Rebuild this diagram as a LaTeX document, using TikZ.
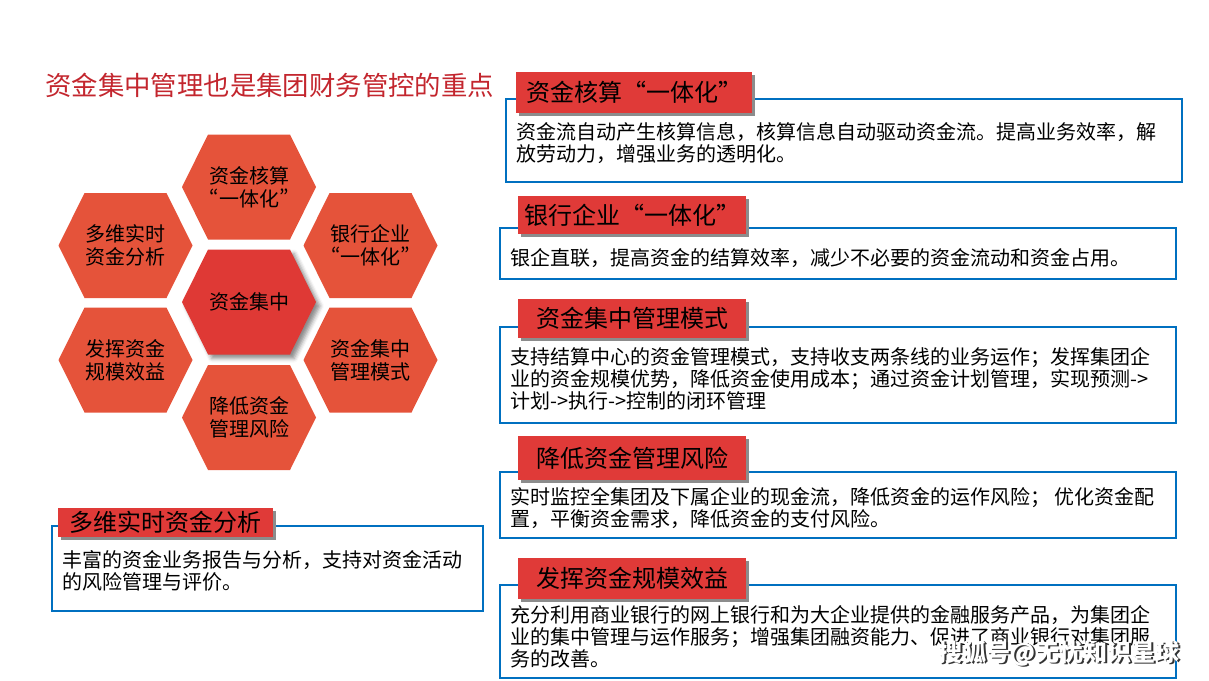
\documentclass[tikz,border=0pt]{standalone}
\usepackage{fontspec}
\setmainfont{Noto Sans CJK SC}
\newfontfamily\tagfont[RawFeature=+fwid]{Noto Sans CJK SC}
\newfontfamily\hexfont[RawFeature=+pwid]{Noto Sans CJK SC}
\usepackage{tikz}
\usetikzlibrary{shadows,shadows.blur,backgrounds}
\definecolor{hexorange}{HTML}{E5533A}
\definecolor{hexred}{HTML}{DF3935}
\definecolor{tagred}{HTML}{E03A38}
\definecolor{titlered}{HTML}{C3262E}
\definecolor{panelblue}{HTML}{0070C0}
\tikzset{
  hextxt/.style={align=center, inner sep=0pt, font=\hexfont\fontsize{20}{23}\selectfont},
  panel/.style={draw=panelblue, line width=2pt, fill=white, minimum width=676pt, inner sep=0pt},
  tagbox/.style={fill=tagred, inner sep=0pt, minimum width=228pt, font=\tagfont\fontsize{24}{26}\selectfont,
    drop shadow={shadow xshift=3pt, shadow yshift=-3pt, fill=black!45, opacity=1}},
  bodytxt/.style={anchor=west, align=left, inner sep=0pt, font=\fontsize{20}{22}\selectfont},
  mark txt/.style={anchor=east, inner sep=0pt, font=\bfseries\fontsize{24}{24}\selectfont}
}

\begin{document}
\begin{tikzpicture}[x=1pt, y=-1pt]
  \useasboundingbox (0,0) rectangle (1209,680);

  % title
  \node[anchor=west, inner sep=0pt, text=titlered, font=\fontsize{26.4}{28}\selectfont] (ttl) at (45,85.5) {资金集中管理也是集团财务管控的重点};

  % hexagon cluster
  \node[hextxt] (hxTop) at (249,187) {资金核算\\“一体化”};
  \node[hextxt] (hxUL) at (125.5,245.5) {多维实时\\资金分析};
  \node[hextxt] (hxUR) at (370.5,245.5) {银行企业\\“一体化”};
  \node[hextxt] (hxMid) at (249,302) {资金集中};
  \node[hextxt] (hxLL) at (125.5,360) {发挥资金\\规模效益};
  \node[hextxt] (hxLR) at (370.5,360) {资金集中\\管理模式};
  \node[hextxt] (hxBot) at (249,417.5) {降低资金\\管理风险};

  \begin{pgfonlayer}{background}
    \foreach \nm in {hxTop,hxUL,hxUR,hxLL,hxLR,hxBot}
      \fill[hexorange, shift={(\nm.center)}] (-67,0) -- (-41,-52.5) -- (41,-52.5) -- (67,0) -- (41,52.5) -- (-41,52.5) -- cycle;
    \fill[hexred, shift={(hxMid.center)},
          blur shadow={shadow xshift=4pt, shadow yshift=-4pt, shadow blur radius=4pt, shadow opacity=45}]
      (-67,0) -- (-41,-52.5) -- (41,-52.5) -- (67,0) -- (41,52.5) -- (-41,52.5) -- cycle;
  \end{pgfonlayer}

  % panels
  \node[panel, minimum height=83pt] (pnHesuan) at (844,140.5) {};
  \node[panel, minimum height=51pt] (pnYinqi) at (838,253.5) {};
  \node[panel, minimum height=96pt] (pnMoshi) at (838,375) {};
  \node[panel, minimum height=66pt] (pnFengxian) at (838,505) {};
  \node[panel, minimum height=93pt] (pnGuimo) at (838,631.5) {};
  \node[panel, minimum width=431pt, minimum height=85pt] (pnFenxi) at (267.5,568.5) {};

  % red tags
  \node[tagbox, minimum width=236pt, minimum height=41pt] (tgHesuan) at (634,92.5) {资金核算“一体化”};
  \node[tagbox, minimum height=38pt] (tgYinqi) at (632,215) {银行企业“一体化”};
  \node[tagbox, minimum height=39pt] (tgMoshi) at (632,318.5) {资金集中管理模式};
  \node[tagbox, minimum height=44pt] (tgFengxian) at (632,458) {降低资金管理风险};
  \node[tagbox, minimum height=41pt] (tgGuimo) at (632,578.5) {发挥资金规模效益};
  \node[tagbox, minimum width=215pt, minimum height=29pt] (tgFenxi) at (165.5,522.5) {多维实时资金分析};

  % panel texts
  \node[bodytxt] (txHesuan) at (516,143.5) {资金流自动产生核算信息，核算信息自动驱动资金流。提高业务效率，解\\放劳动力，增强业务的透明化。};
  \node[bodytxt] (txYinqi) at (510,258) {银企直联，提高资金的结算效率，减少不必要的资金流动和资金占用。};
  \node[bodytxt] (txMoshi) at (510,379) {支持结算中心的资金管理模式，支持收支两条线的业务运作；发挥集团企\\业的资金规模优势，降低资金使用成本；通过资金计划管理，实现预测->\\计划->执行->控制的闭环管理};
  \node[bodytxt] (txFengxian) at (510,508.5) {实时监控全集团及下属企业的现金流，降低资金的运作风险； 优化资金配\\置，平衡资金需求，降低资金的支付风险。};
  \node[bodytxt] (txGuimo) at (510,637) {充分利用商业银行的网上银行和为大企业提供的金融服务产品，为集团企\\业的集中管理与运作服务；增强集团融资能力、促进了商业银行对集团服\\务的改善。};
  \node[bodytxt] (txFenxi) at (62,571) {丰富的资金业务报告与分析，支持对资金活动\\的风险管理与评价。};

  % watermark
  \node[mark txt, text=black!80] (wmShade) at (1181.5,654.5) {搜狐号@无忧知识星球};
  \node[mark txt, text=white] (wmText) at (1180,653) {搜狐号@无忧知识星球};
\end{tikzpicture}
\end{document}
